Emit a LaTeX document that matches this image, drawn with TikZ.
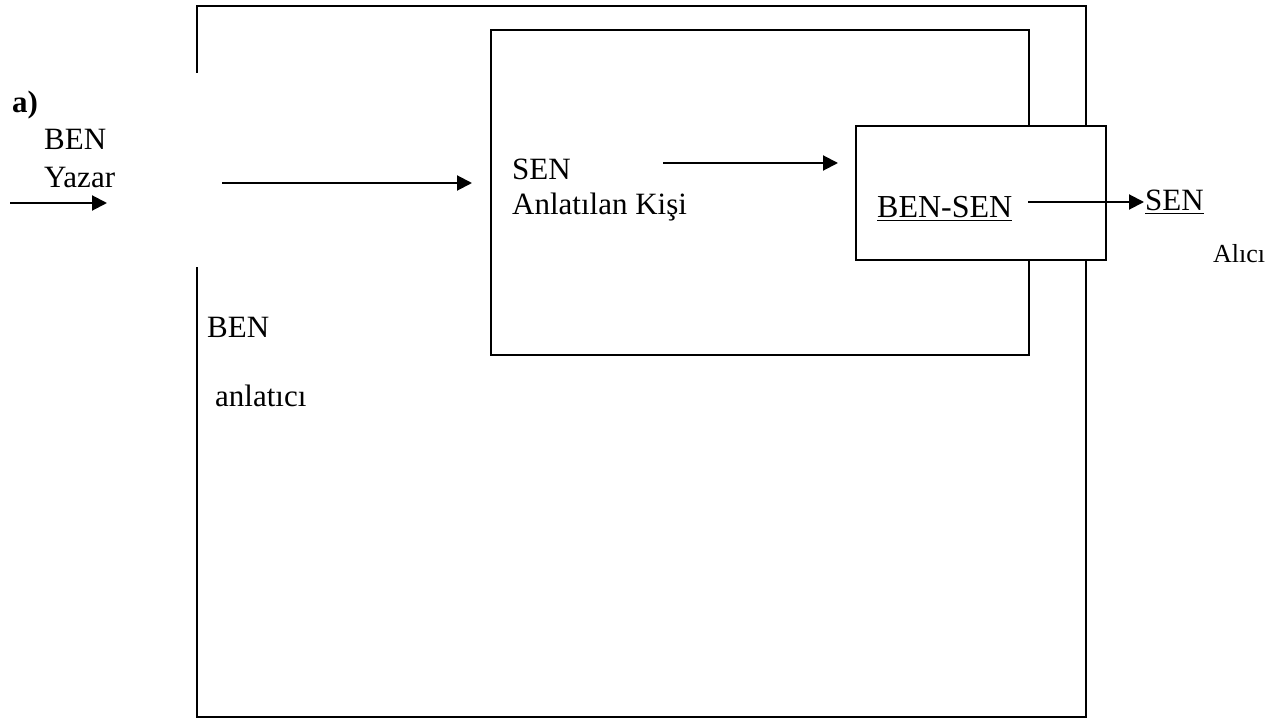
\documentclass[tikz,border=0pt]{standalone}
\usepackage{fontspec}
\setmainfont{Liberation Serif}
\usetikzlibrary{arrows.meta,positioning}

\tikzset{
  txt/.style={anchor=base west, inner sep=0pt, font=\fontsize{31}{37}\selectfont},
  arr/.style={line width=2pt, -{Triangle[length=15pt,width=15pt]}},
  frame/.style={line width=2pt}
}

\begin{document}
\begin{tikzpicture}[x=1pt,y=-1pt]
		\useasboundingbox (0,0) rectangle (1288,722);

		% outer box (BEN anlatici), open on the left
		\draw[frame] (197,73) -- (197,6) -- (1086,6) -- (1086,717) -- (197,717) -- (197,267);
		% middle box
		\draw[frame] (491,30) rectangle (1029,355);
		% inner box
		\draw[frame, fill=white] (856,126) rectangle (1106,260);

		\node[txt, font=\bfseries\fontsize{31}{37}\selectfont] (a) at (12,113) {a)};
		\node[txt] (ben1) at (44,150) {BEN};
		\node[txt] (yazar) at (44,188) {Yazar};
		\node[txt] (sen1) at (512,180) {SEN};
		\node[txt] (kisi) at (512,215) {Anlatılan Kişi};
		\node[txt, font=\fontsize{32}{38}\selectfont] (bensen) at (877,218) {\underline{BEN-SEN}};
		\node[txt] (sen2) at (1145,211) {\underline{SEN}};
		\node[txt, font=\fontsize{26}{30}\selectfont] (alici) at (1213,262) {Alıcı};
		\node[txt] (ben2) at (207,337) {BEN};
		\node[txt] (anlatici) at (215,406) {anlatıcı};

		\coordinate (p1) at (10,203);
		\coordinate (p2) at (107,203);
		\coordinate (q1) at (222,183);
		\coordinate (q2) at (472,183);
		\coordinate (r1) at (663,163);
		\coordinate (r2) at (838,163);
		\coordinate (s1) at (1028,202);
		\coordinate (s2) at (1144,202);

		\draw[arr] (p1) -- (p2);
		\draw[arr] (q1) -- (q2);
		\draw[arr] (r1) -- (r2);
		\draw[arr] (s1) -- (s2);
	\end{tikzpicture}
\end{document}
